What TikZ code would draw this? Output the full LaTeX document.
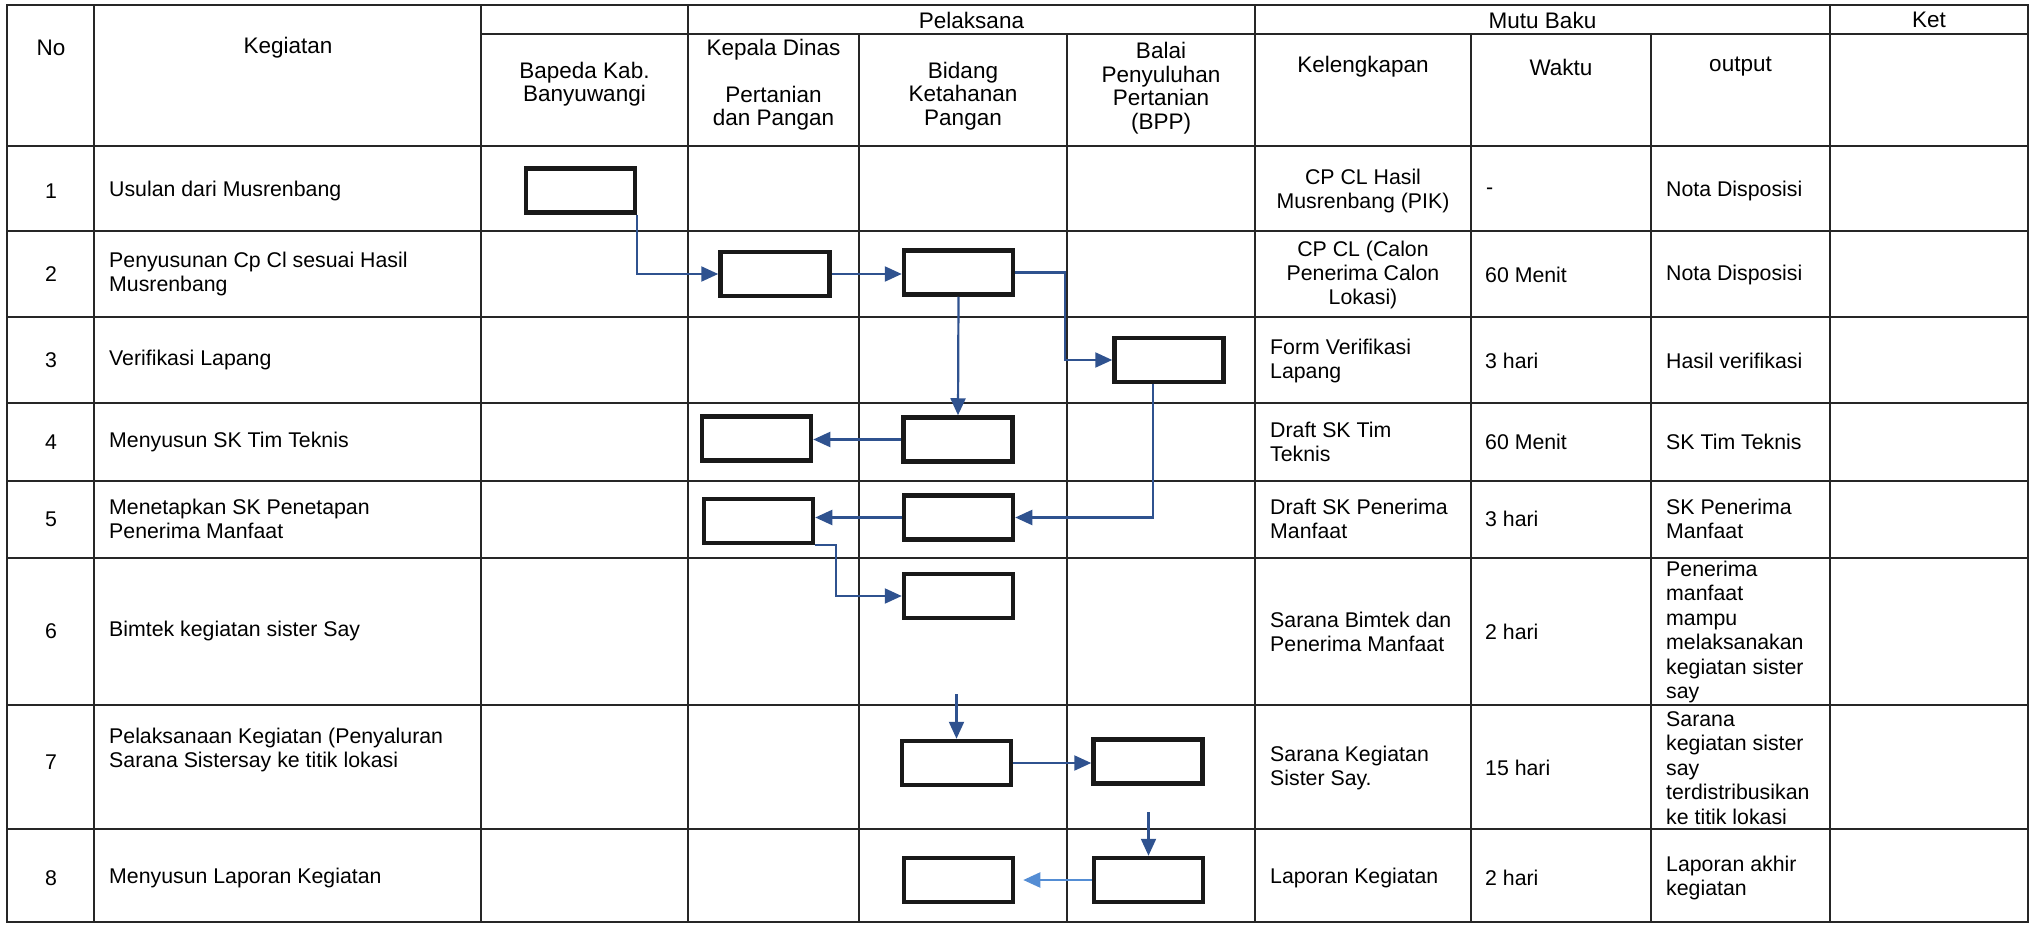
\documentclass[tikz,border=0pt]{standalone}
\usepackage{fontspec}
\setmainfont{Liberation Sans}
\usetikzlibrary{arrows.meta}
\definecolor{flowblue}{RGB}{47,82,143}
\definecolor{lightflow}{RGB}{84,141,212}

\begin{document}
\begin{tikzpicture}[x=1pt,y=-1pt,
  grid/.style={line width=1.4pt,black!85},
  act/.style={draw=black!90,line width=4.5pt,minimum width=109pt,minimum height=44pt,inner sep=0pt},
  flow/.style={flowblue,line width=2.2pt,-{Triangle[length=17pt,width=15pt]}},
  head/.style={font=\fontsize{22.5}{23.5}\selectfont,align=center,inner sep=0pt},
  txt/.style={font=\fontsize{21.3}{24.4}\selectfont,align=left,anchor=west,inner sep=0pt},
  ctxt/.style={font=\fontsize{21.3}{24.4}\selectfont,align=center,inner sep=0pt}]
%\draw[help lines] (0,0) grid (2035,928);
\useasboundingbox (0,0) rectangle (2035,928);

\draw [grid] (7,5) rectangle (2028,922);
\draw [grid] (481,34)--(2028,34);
\draw [grid] (7,146)--(2028,146);
\draw [grid] (7,231)--(2028,231);
\draw [grid] (7,317)--(2028,317);
\draw [grid] (7,403)--(2028,403);
\draw [grid] (7,481)--(2028,481);
\draw [grid] (7,558)--(2028,558);
\draw [grid] (7,705)--(2028,705);
\draw [grid] (7,829)--(2028,829);

\draw [grid] (94,5)--(94,922);
\draw [grid] (481,5)--(481,922);
\draw [grid] (688,5)--(688,922);
\draw [grid] (859,34)--(859,922);
\draw [grid] (1067,34)--(1067,922);
\draw [grid] (1255,5)--(1255,922);
\draw [grid] (1471,34)--(1471,922);
\draw [grid] (1651,34)--(1651,922);
\draw [grid] (1830,5)--(1830,922);

% header
\node (hNo) at (51,48) [head] {No};
\node (hKeg) at (288,48) [head] {Kegiatan};
\node (hPel) at (971.5,20) [head] {Pelaksana};
\node (hMutu) at (1542.5,20) [head] {Mutu Baku};
\node (hKet) at (1929,20) [head] {Ket};
\node (hBap) at (584.5,84) [head] {Bapeda Kab.\\Banyuwangi};
\node (hKad) at (773.5,85) [head] {Kepala Dinas\\[23pt]Pertanian\\dan Pangan};
\node (hBid) at (963,96) [head] {Bidang\\Ketahanan\\Pangan};
\node (hBpp) at (1161,88) [head] {Balai\\Penyuluhan\\Pertanian\\(BPP)};
\node (hKel) at (1363,67) [head] {Kelengkapan};
\node (hWkt) at (1561,67) [head] {Waktu};
\node (hOut) at (1740.5,67) [head] {output};

% No and Kegiatan
\node (no1) at (51,191) [ctxt] {1};
\node (no2) at (51,274) [ctxt] {2};
\node (no3) at (51,360) [ctxt] {3};
\node (no4) at (51,442) [ctxt] {4};
\node (no5) at (51,519) [ctxt] {5};
\node (no6) at (51,631) [ctxt] {6};
\node (no7) at (51,762) [ctxt] {7};
\node (no8) at (51,878) [ctxt] {8};

\node (keg1) at (109,191) [txt] {Usulan dari Musrenbang};
\node (keg2) at (109,274) [txt] {Penyusunan Cp Cl sesuai Hasil\\Musrenbang};
\node (keg3) at (109,360) [txt] {Verifikasi Lapang};
\node (keg4) at (109,442) [txt] {Menyusun SK Tim Teknis};
\node (keg5) at (109,519) [txt] {Menetapkan SK Penetapan\\Penerima Manfaat};
\node (keg6) at (109,631) [txt] {Bimtek kegiatan sister Say};
\node (keg7) at (109,750) [txt] {Pelaksanaan Kegiatan (Penyaluran\\Sarana Sistersay ke titik lokasi};
\node (keg8) at (109,878) [txt] {Menyusun Laporan Kegiatan};

% Mutu Baku
\node (kel1) at (1363,191) [ctxt] {CP CL Hasil\\Musrenbang (PIK)};
\node (kel2) at (1363,275) [ctxt] {CP CL (Calon\\Penerima Calon\\Lokasi)};
\node (kel3) at (1270,361) [txt] {Form Verifikasi\\Lapang};
\node (kel4) at (1270,442) [txt] {Draft SK Tim\\Teknis};
\node (kel5) at (1270,519) [txt] {Draft SK Penerima\\Manfaat};
\node (kel6) at (1270,632) [txt] {Sarana Bimtek dan\\Penerima Manfaat};
\node (kel7) at (1270,768) [txt] {Sarana Kegiatan\\Sister Say.};
\node (kel8) at (1270,878) [txt] {Laporan Kegiatan};

\node (wkt1) at (1486,191) [txt] {-};
\node (wkt2) at (1485,275) [txt] {60 Menit};
\node (wkt3) at (1485,361) [txt] {3 hari};
\node (wkt4) at (1485,442) [txt] {60 Menit};
\node (wkt5) at (1485,519) [txt] {3 hari};
\node (wkt6) at (1485,632) [txt] {2 hari};
\node (wkt7) at (1485,768) [txt] {15 hari};
\node (wkt8) at (1485,878) [txt] {2 hari};

\node (out1) at (1666,191) [txt] {Nota Disposisi};
\node (out2) at (1666,275) [txt] {Nota Disposisi};
\node (out3) at (1666,361) [txt] {Hasil verifikasi};
\node (out4) at (1666,442) [txt] {SK Tim Teknis};
\node (out5) at (1666,519) [txt] {SK Penerima\\Manfaat};
\node (out6) at (1666,632) [txt] {Penerima\\manfaat\\mampu\\melaksanakan\\kegiatan sister\\say};
\node (out7) at (1666,768) [txt] {Sarana\\kegiatan sister\\say\\terdistribusikan\\ke titik lokasi};
\node (out8) at (1666,878) [txt] {Laporan akhir\\kegiatan};

% activity boxes
\node (b1) at (580.5,190.5) [act] {};
\node (k2) at (775,274) [act] {};
\node (d2) at (958.5,272.5) [act] {};
\node (p3) at (1169,360) [act] {};
\node (k4) at (756.5,438.5) [act] {};
\node (d4) at (958,439.5) [act] {};
\node (k5) at (758.5,521) [act] {};
\node (d5) at (958.5,517.5) [act] {};
\node (d6) at (958.5,596) [act] {};
\node (d7) at (956.5,763) [act] {};
\node (p7) at (1148,761.5) [act] {};
\node (d8) at (958.5,880) [act] {};
\node (p8) at (1148.5,880) [act] {};

\coordinate (s7) at (956.5,694);
\coordinate (s8) at (1148.5,812);

% flow
\draw [flow] (b1.south east) |- (k2.west);
\draw [flow] (k2.east) -- (k2.east -| d2.west);
\draw [flow] (d2.south) -- (d4.north);
\draw [flow] (d2.east) -- ++(50,0) |- (p3.west);
\draw [flow] (d4.west) -- (d4.west -| k4.east);
\draw [flow] ([xshift=-16pt]p3.south) |- (d5.east);
\draw [flow] (d5.west) -- (d5.west -| k5.east);
\draw [flow] (k5.south east) -- ++(21,0) |- (d6.west);
\draw [flow] (s7) -- (d7.north);
\draw [flow] (d7.east) -- (d7.east -| p7.west);
\draw [flow] (s8) -- (p8.north);
\draw [flow,lightflow] (p8.west) -- ([xshift=8pt]d8.east);
\end{tikzpicture}
\end{document}
